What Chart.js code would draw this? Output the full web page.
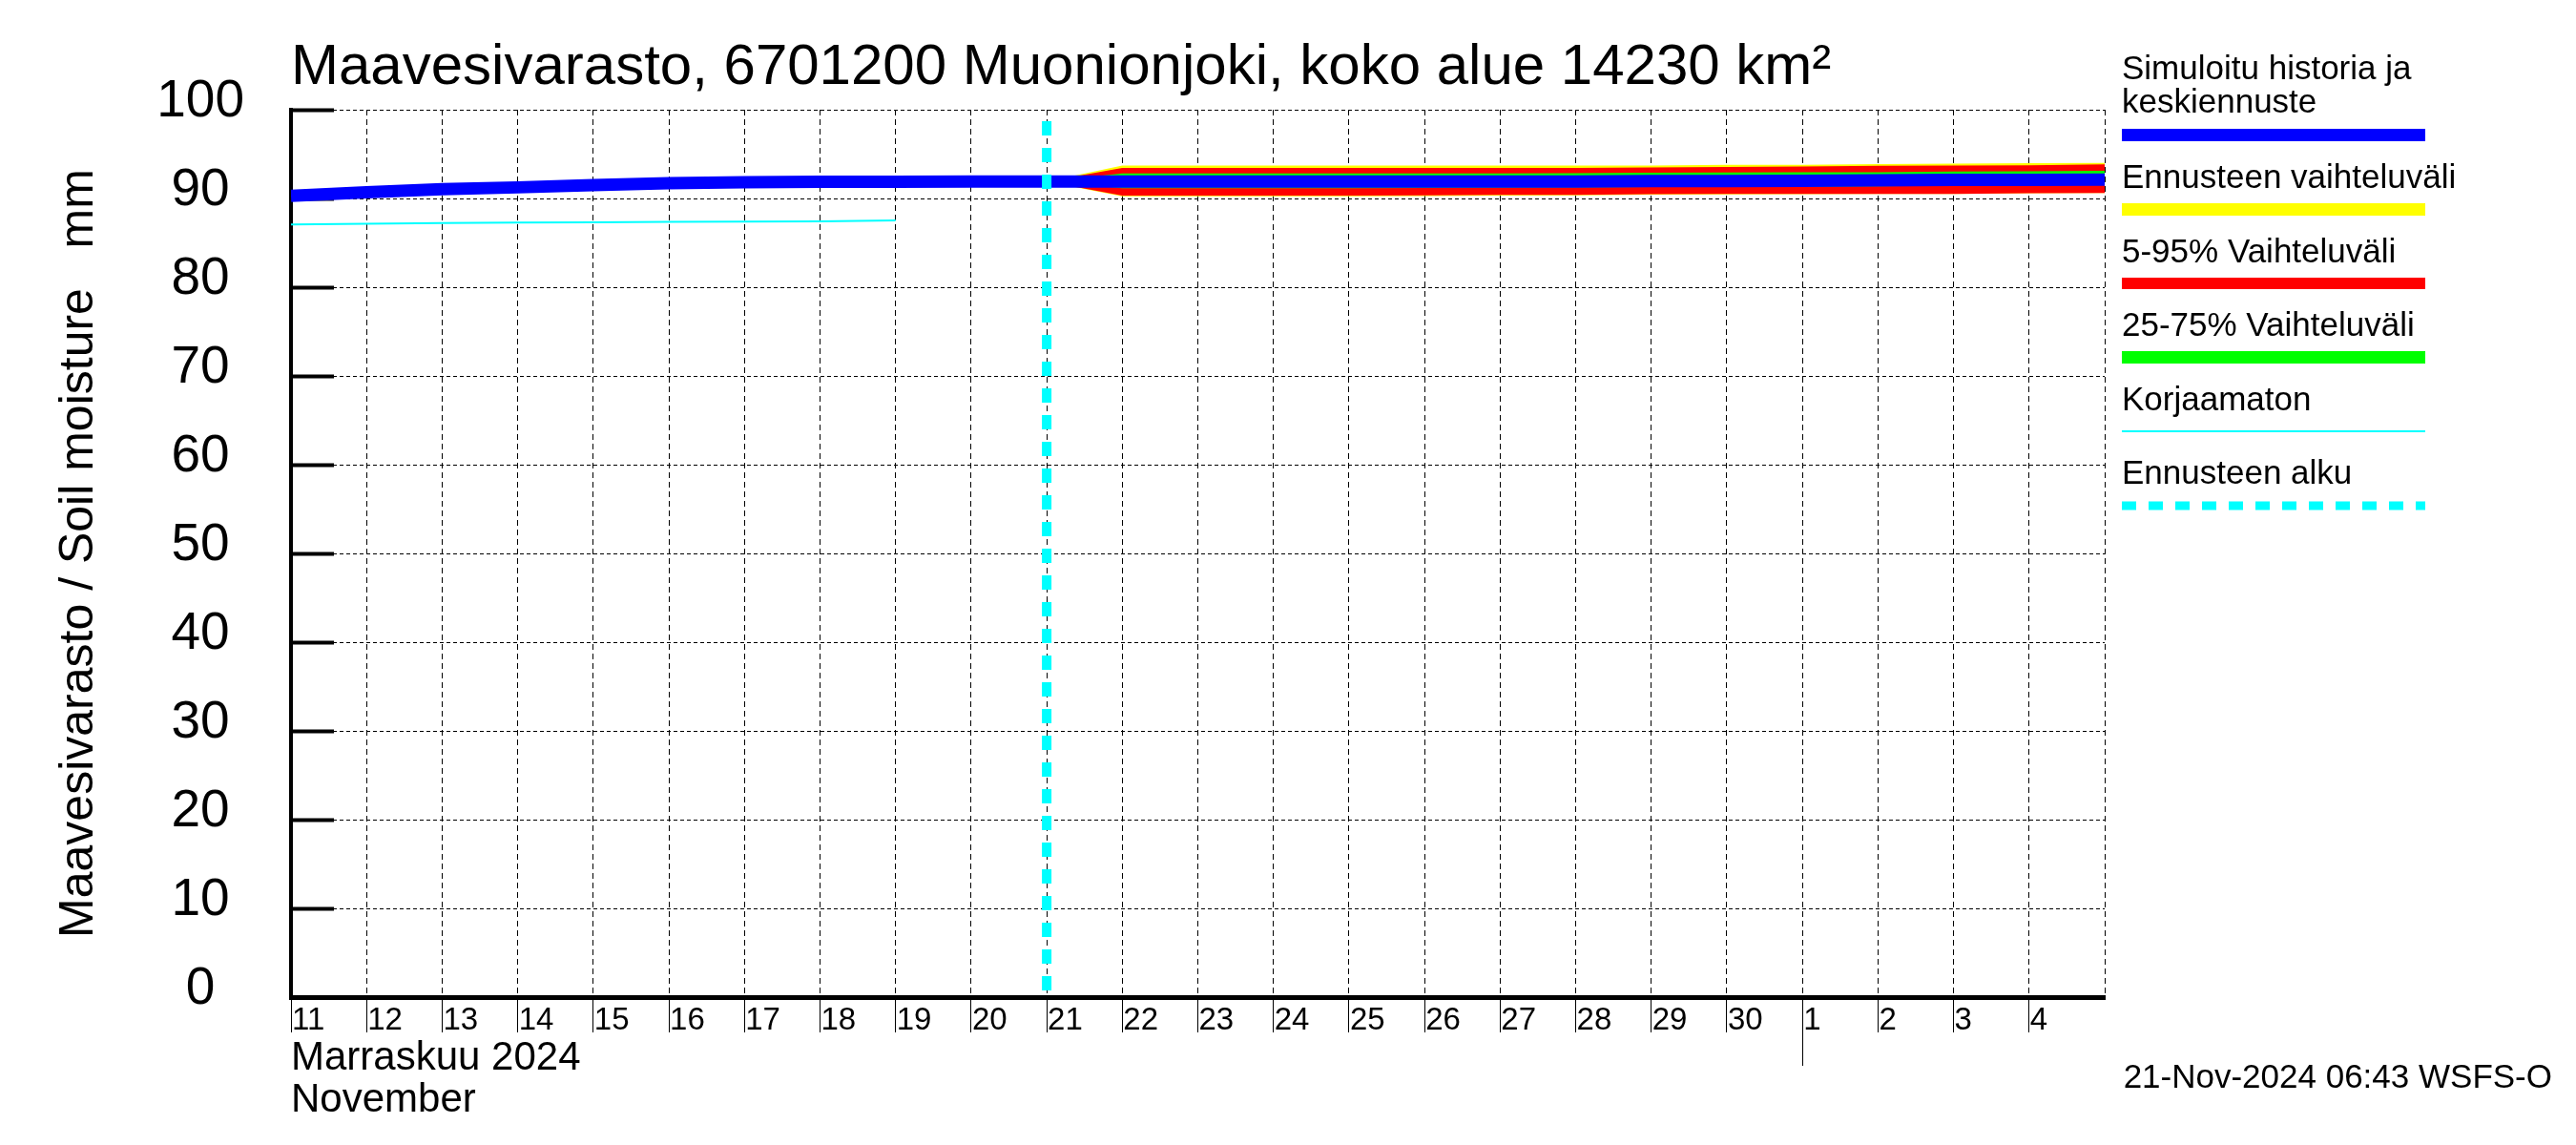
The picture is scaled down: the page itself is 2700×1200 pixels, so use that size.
<!DOCTYPE html>
<html>
<head>
<meta charset="utf-8">
<script src="https://cdn.jsdelivr.net/npm/chart.js@4/dist/chart.umd.min.js"></script>
<style>
html,body{margin:0;padding:0;background:#fff;}
#wrap{position:relative;width:2700px;height:1200px;background:#fff;}
#c{position:absolute;left:0;top:0;}
#ov{position:absolute;left:0;top:0;pointer-events:none;}
#ov text{font-family:'Liberation Sans',Arial,Helvetica,sans-serif;fill:#000;}
</style>
</head>
<body>
<div id="wrap">
<canvas id="c" width="2700" height="1200"></canvas>
<svg id="ov" width="2700" height="1200" xmlns="http://www.w3.org/2000/svg">
  <text x="305" y="88" font-size="60">Maavesivarasto, 6701200 Muonionjoki, koko alue 14230 km²</text>
  <text x="305" y="1121" font-size="42">Marraskuu 2024</text>
  <text x="305" y="1165" font-size="42">November</text>
  <text x="2675" y="1140" font-size="35" text-anchor="end">21-Nov-2024 06:43 WSFS-O</text>
  <g id="legend"></g>
</svg>
</div>
<script>
// ---- data ----
const dayLabels = ['11','12','13','14','15','16','17','18','19','20','21','22','23','24','25','26','27','28','29','30','1','2','3','4'];
const axisStart = '2024-11-11';
const forecastStart = '2024-11-21';
const monthStart = '2024-12-01';

const simDates = ['2024-11-11','2024-11-12','2024-11-13','2024-11-14','2024-11-15','2024-11-16','2024-11-17','2024-11-18','2024-11-19','2024-11-20','2024-11-21','2024-11-22','2024-11-23','2024-11-24','2024-11-25','2024-11-26','2024-11-27','2024-11-28','2024-11-29','2024-11-30','2024-12-01','2024-12-02','2024-12-03','2024-12-04','2024-12-05'];
const simValues = [90.3, 90.7, 91.05, 91.25, 91.5, 91.72, 91.83, 91.87, 91.88, 91.9, 91.9, 91.9, 91.9, 91.9, 91.9, 91.9, 91.9, 91.92, 91.95, 91.97, 92.0, 92.05, 92.1, 92.1, 92.12];

const rawDates = ['2024-11-11','2024-11-12','2024-11-13','2024-11-14','2024-11-15','2024-11-16','2024-11-17','2024-11-18','2024-11-19'];
const rawValues = [87.06, 87.15, 87.22, 87.28, 87.32, 87.36, 87.38, 87.42, 87.52];

const fcDates = ['2024-11-21','2024-11-22','2024-11-23','2024-11-24','2024-11-25','2024-11-26','2024-11-27','2024-11-28','2024-11-29','2024-11-30','2024-12-01','2024-12-02','2024-12-03','2024-12-04','2024-12-05'];
const fcMax = [91.9, 93.7, 93.7, 93.7, 93.7, 93.7, 93.7, 93.7, 93.72, 93.8, 93.8, 93.88, 93.92, 93.98, 94.0];
const fcP95 = [91.9, 93.45, 93.45, 93.45, 93.45, 93.45, 93.45, 93.45, 93.5, 93.55, 93.6, 93.68, 93.7, 93.75, 93.85];
const fcP75 = [91.9, 92.83, 92.83, 92.83, 92.83, 92.83, 92.83, 92.85, 92.9, 92.94, 92.95, 92.97, 93.05, 93.07, 93.12];
const fcP25 = [91.9, 91.15, 91.15, 91.15, 91.15, 91.18, 91.22, 91.25, 91.29, 91.3, 91.32, 91.38, 91.45, 91.5, 91.52];
const fcP5  = [91.9, 90.32, 90.32, 90.32, 90.32, 90.34, 90.39, 90.4, 90.48, 90.5, 90.5, 90.5, 90.52, 90.58, 90.61];
const fcMin = [91.9, 90.25, 90.25, 90.25, 90.25, 90.27, 90.33, 90.36, 90.42, 90.46, 90.49, 90.5, 90.52, 90.58, 90.61];

const legendLabels = [['Simuloitu historia ja','keskiennuste'],['Ennusteen vaihteluväli'],['5-95% Vaihteluväli'],['25-75% Vaihteluväli'],['Korjaamaton'],['Ennusteen alku']];

// ---- helpers ----
const FONT = "'Liberation Sans', Arial, Helvetica, sans-serif";
const base = Date.parse(axisStart + 'T00:00:00Z');
const dx = s => (Date.parse(s + 'T00:00:00Z') - base) / 86400000;
const pts = (dates, vals) => dates.map((d, i) => ({x: dx(d), y: vals[i]}));
const NONE = 'rgba(0,0,0,0)';

const markerPlugin = {
  id: 'markers',
  afterDatasetsDraw(chart) {
    const {ctx, chartArea: a, scales: {x}} = chart;
    const fx = x.getPixelForValue(dx(forecastStart));
    ctx.save();
    ctx.strokeStyle = '#00ffff';
    ctx.lineWidth = 10;
    ctx.setLineDash([15, 13]);
    ctx.lineDashOffset = 16;
    ctx.beginPath();
    ctx.moveTo(fx, a.top);
    ctx.lineTo(fx, a.bottom);
    ctx.stroke();
    ctx.restore();
  },
  afterDraw(chart) {
    const {ctx, chartArea: a, scales: {x}} = chart;
    const mx = Math.round(x.getPixelForValue(dx(monthStart))) + 0.5;
    ctx.save();
    ctx.strokeStyle = '#000';
    ctx.lineWidth = 1;
    ctx.beginPath();
    ctx.moveTo(mx, a.bottom);
    ctx.lineTo(mx, a.bottom + 72);
    ctx.stroke();
    ctx.restore();
  }
};

const zeroPad = s => { s.paddingTop = 0; s.paddingBottom = 0; s.paddingLeft = 0; s.paddingRight = 0; };
const common = {pointRadius: 0, pointHoverRadius: 0, tension: 0};

new Chart(document.getElementById('c'), {
  type: 'line',
  data: {
    datasets: [
      {label: 'Simuloitu historia ja keskiennuste', data: pts(simDates, simValues), borderColor: '#0000ff', borderWidth: 13, borderCapStyle: 'butt', fill: false, ...common},
      {label: 'Korjaamaton', data: pts(rawDates, rawValues), borderColor: '#00ffff', borderWidth: 2, fill: false, ...common},
      {label: '75%', data: pts(fcDates, fcP75), borderColor: NONE, borderWidth: 0, backgroundColor: '#00ff00', fill: 3, ...common},
      {label: '25%', data: pts(fcDates, fcP25), borderColor: NONE, borderWidth: 0, fill: false, ...common},
      {label: '95%', data: pts(fcDates, fcP95), borderColor: NONE, borderWidth: 0, backgroundColor: '#ff0000', fill: 5, ...common},
      {label: '5%', data: pts(fcDates, fcP5), borderColor: NONE, borderWidth: 0, fill: false, ...common},
      {label: 'max', data: pts(fcDates, fcMax), borderColor: NONE, borderWidth: 0, backgroundColor: '#ffff00', fill: 7, ...common},
      {label: 'min', data: pts(fcDates, fcMin), borderColor: NONE, borderWidth: 0, fill: false, ...common}
    ]
  },
  options: {
    responsive: false,
    animation: false,
    devicePixelRatio: 1,
    events: [],
    layout: {padding: {left: 0, top: 115, right: 494, bottom: 0}},
    plugins: {legend: {display: false}, tooltip: {enabled: false}, title: {display: false}},
    scales: {
      x: {
        type: 'linear', min: 0, max: dayLabels.length,
        afterFit(s) { s.height = 155; zeroPad(s); },
        ticks: {
          stepSize: 1, autoSkip: false, maxRotation: 0, minRotation: 0, align: 'start',
          labelOffset: 1, padding: -32, color: '#000',
          font: {family: FONT, size: 33},
          callback: v => (dayLabels[v] !== undefined ? dayLabels[v] : '')
        },
        grid: {
          color: '#000', lineWidth: 1, drawTicks: true, tickLength: 37, tickWidth: 1,
          tickColor: c => (c.tick && c.tick.value >= dayLabels.length ? NONE : '#000'),
          tickBorderDash: [], borderDash: [6, 4]
        },
        border: {display: true, color: '#000', width: 5, dash: [6, 4]}
      },
      y: {
        min: 0, max: 100,
        afterFit(s) { s.width = 305; zeroPad(s); },
        ticks: {stepSize: 10, padding: 94, crossAlign: 'center', labelOffset: -8, color: '#000', font: {family: FONT, size: 55}},
        grid: {color: '#000', lineWidth: 1, drawTicks: true, tickLength: -45, tickWidth: 4, tickColor: '#000', tickBorderDash: [], borderDash: [4, 3]},
        border: {display: true, color: '#000', width: 4, dash: [4, 3]},
        title: {display: true, text: 'Maavesivarasto / Soil moisture   mm', color: '#000', font: {family: FONT, size: 50}, padding: {top: 53, bottom: 0}}
      }
    }
  },
  plugins: [markerPlugin]
});

// ---- legend (SVG) ----
(function () {
  const g = document.getElementById('legend');
  const NS = 'http://www.w3.org/2000/svg';
  const lx = 2224, lw = 318;
  const textY = [[83, 118], [197], [275], [352], [430], [507]];
  const el = (tag, attrs, txt) => {
    const e = document.createElementNS(NS, tag);
    for (const k in attrs) e.setAttribute(k, attrs[k]);
    if (txt) e.textContent = txt;
    g.appendChild(e);
    return e;
  };
  legendLabels.forEach((lines, i) => {
    lines.forEach((t, j) => el('text', {x: lx, y: textY[i][j], 'font-size': 35}, t));
  });
  el('rect', {x: lx, y: 135, width: lw, height: 13, fill: '#0000ff'});
  el('rect', {x: lx, y: 213, width: lw, height: 13, fill: '#ffff00'});
  el('rect', {x: lx, y: 291, width: lw, height: 12, fill: '#ff0000'});
  el('rect', {x: lx, y: 368, width: lw, height: 13, fill: '#00ff00'});
  el('line', {x1: lx, y1: 452, x2: lx + lw, y2: 452, stroke: '#00ffff', 'stroke-width': 2});
  el('line', {x1: lx, y1: 530, x2: lx + lw, y2: 530, stroke: '#00ffff', 'stroke-width': 9, 'stroke-dasharray': '15 13'});
})();
</script>
</body>
</html>
